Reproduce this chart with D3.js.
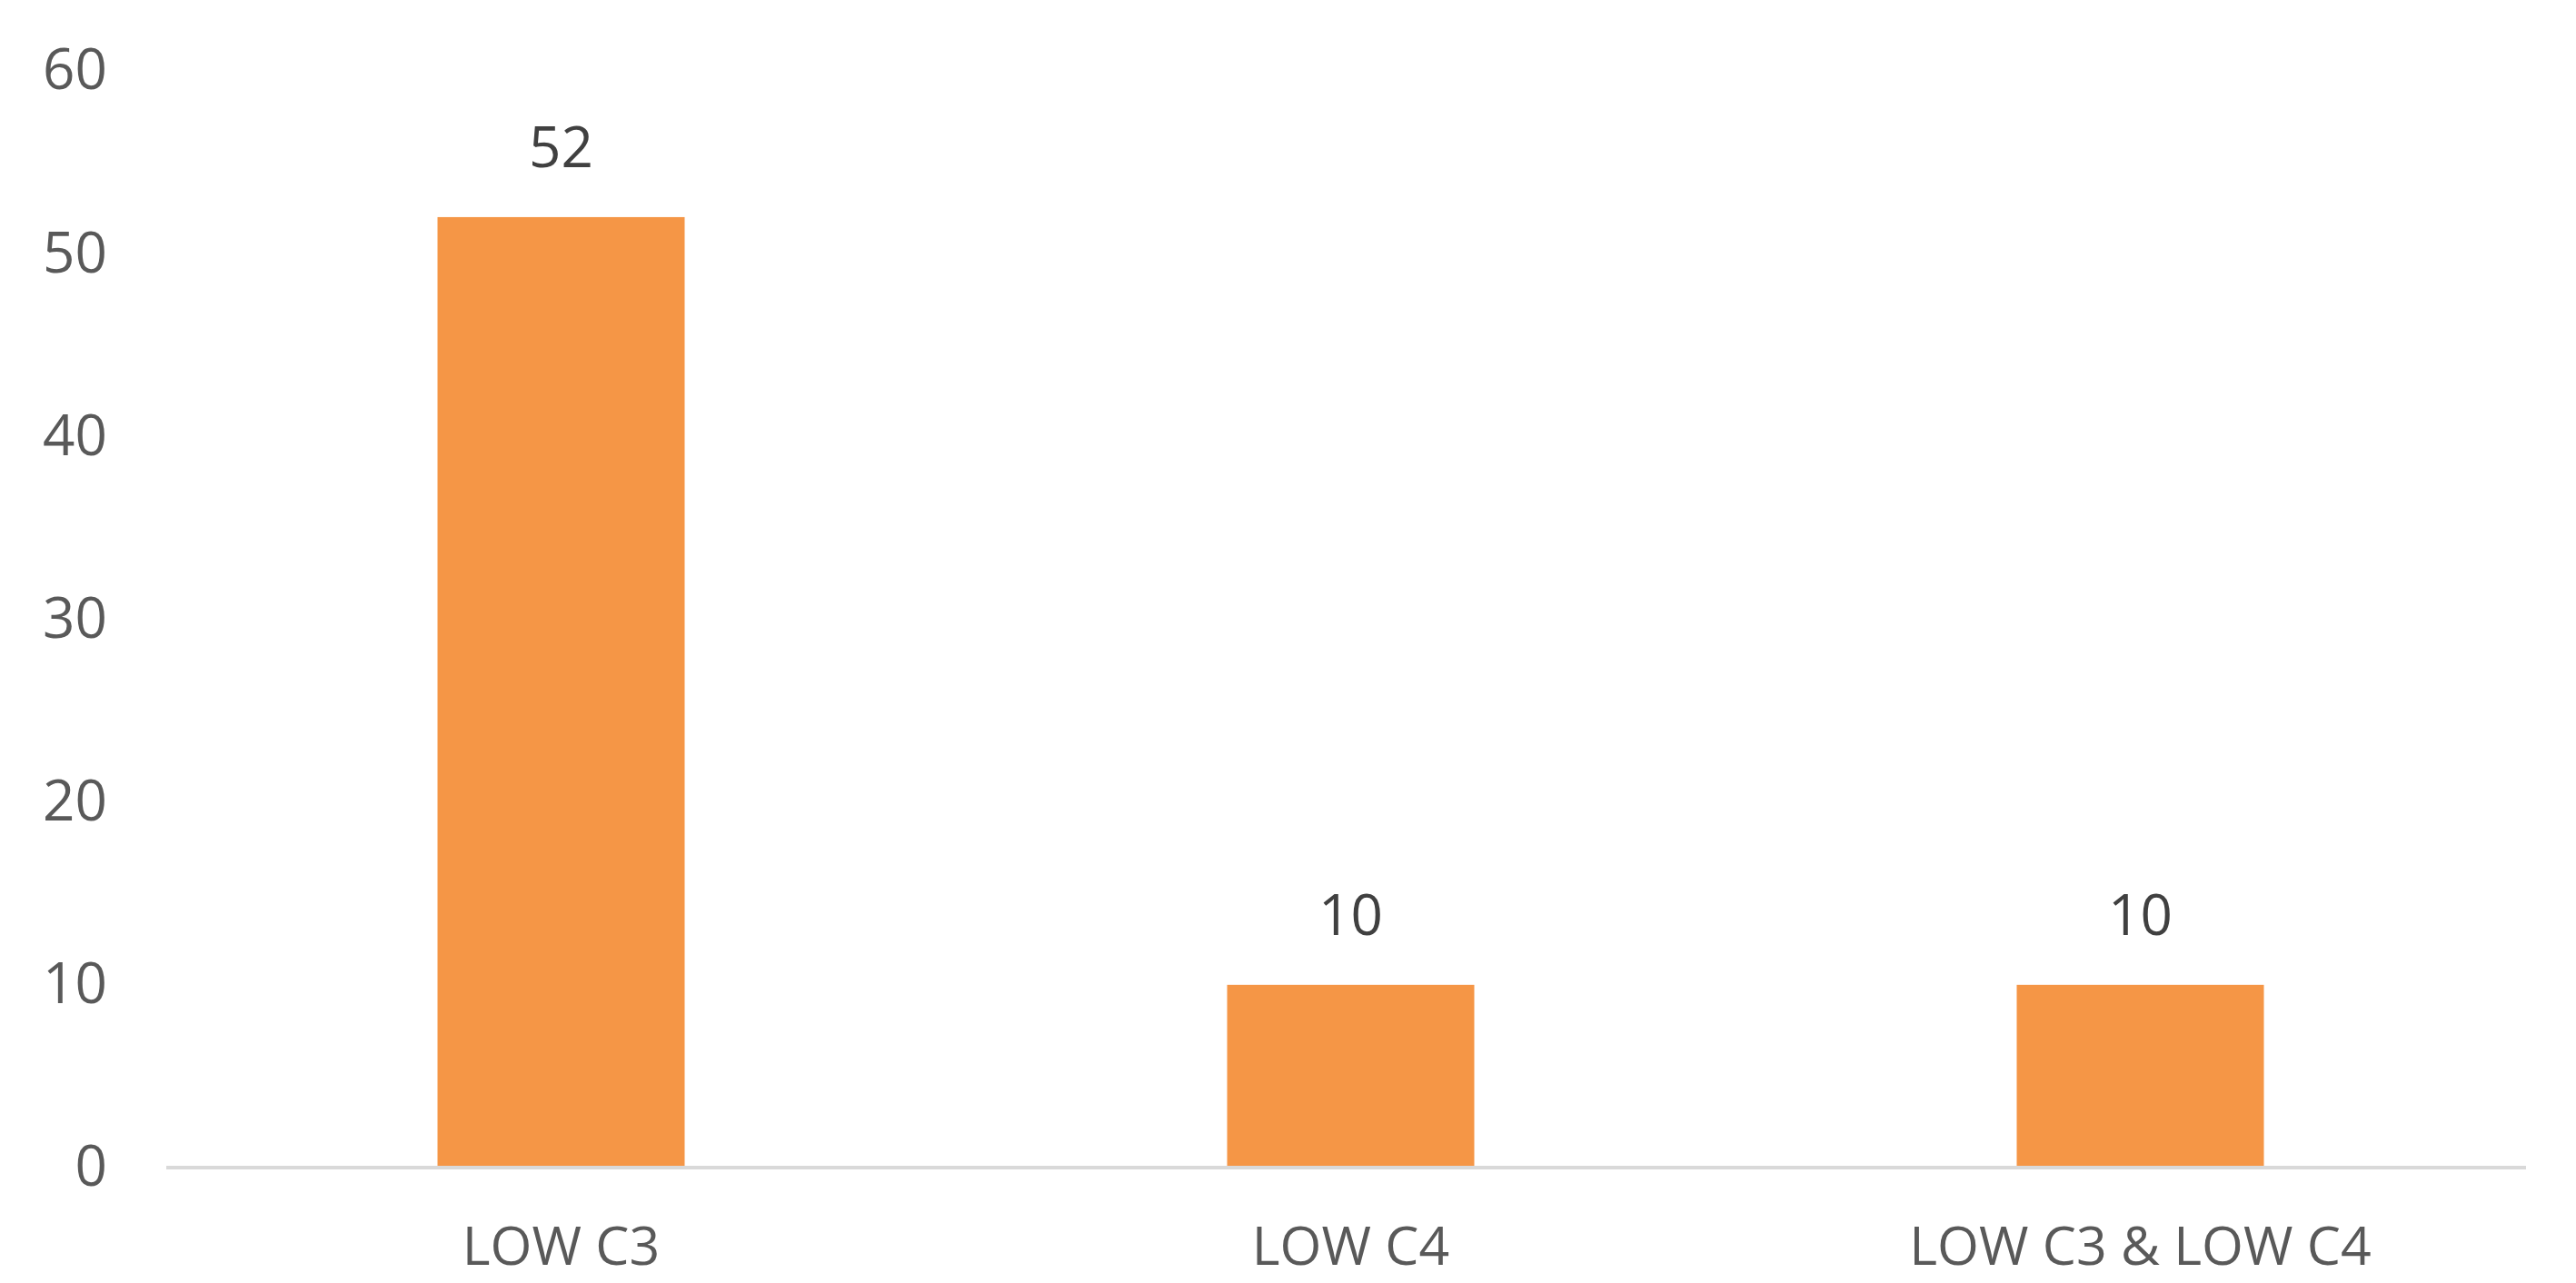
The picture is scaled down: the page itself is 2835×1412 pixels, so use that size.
<!DOCTYPE html>
<html>
<head>
<meta charset="utf-8">
<script src="https://cdn.jsdelivr.net/npm/d3@7"></script>
<style>
  html, body { margin: 0; padding: 0; background: #fff; }
  svg { display: block; }
</style>
</head>
<body>
<svg id="chart" width="2835" height="1412"></svg>
<script>
const categories = ["LOW C3", "LOW C4", "LOW C3 & LOW C4"];
const values = [52, 10, 10];
const yTicks = [0, 10, 20, 30, 40, 50, 60];

const W = 2835, H = 1412;
const margin = { left: 183, right: 45, top: 78, bottom: 127 };
const svg = d3.select("#chart");
const font = "'Open Sans', 'Noto Sans', sans-serif";

const x = d3.scaleBand()
  .domain(categories)
  .range([margin.left, W - margin.right])
  .paddingInner(0.687)
  .paddingOuter(0.3435);

const y = d3.scaleLinear()
  .domain([0, 60])
  .range([H - margin.bottom, margin.top]);

// y axis labels (no line, no ticks)
const yAxis = d3.axisLeft(y).tickValues(yTicks).tickSize(0).tickPadding(0);
const gy = svg.append("g")
  .attr("transform", `translate(118,0)`)
  .call(yAxis);
gy.select(".domain").remove();
gy.selectAll("text")
  .attr("font-family", font)
  .attr("font-size", 62)
  .attr("fill", "#595959");

// bars
svg.append("g").selectAll("rect")
  .data(values)
  .join("rect")
  .attr("x", (d, i) => x(categories[i]))
  .attr("width", x.bandwidth())
  .attr("y", d => y(d))
  .attr("height", d => y(0) - y(d))
  .attr("fill", "#F59646");

// baseline / x axis
const xAxis = d3.axisBottom(x).tickSize(0).tickPadding(70);
const gx = svg.append("g")
  .attr("transform", `translate(0,${y(0)})`)
  .call(xAxis);
gx.select(".domain")
  .attr("stroke", "#D9D9D9")
  .attr("stroke-width", 4)
  .attr("d", `M${margin.left},0H${W - margin.right - 10}`);
gx.selectAll("text")
  .attr("font-family", font)
  .attr("font-size", 59)
  .attr("fill", "#595959")
  .attr("dy", "0.35em")
  .attr("y", 86);

// data labels
svg.append("g").selectAll("text")
  .data(values)
  .join("text")
  .attr("x", (d, i) => x(categories[i]) + x.bandwidth() / 2)
  .attr("y", d => y(d) - 77)
  .attr("dy", "0.35em")
  .attr("text-anchor", "middle")
  .attr("font-family", font)
  .attr("font-size", 62)
  .attr("fill", "#404040")
  .text(d => d);
</script>
</body>
</html>
